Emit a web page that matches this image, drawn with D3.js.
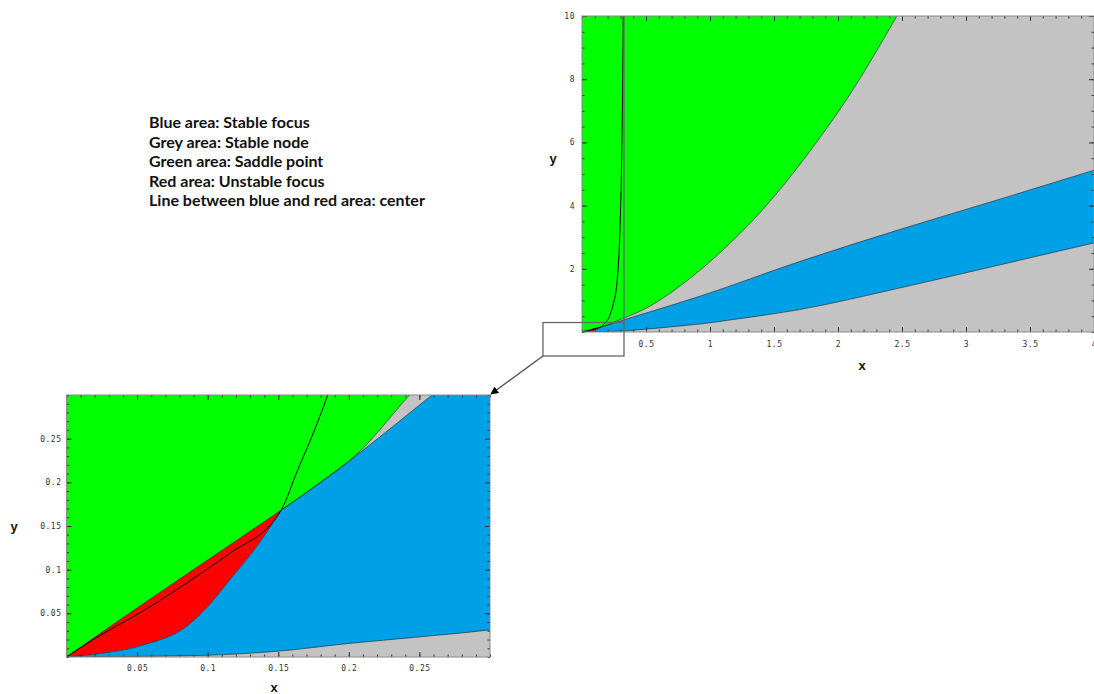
<!DOCTYPE html>
<html>
<head>
<meta charset="utf-8">
<script src="https://cdn.jsdelivr.net/npm/d3@7"></script>
<style>
  html, body { margin: 0; padding: 0; background: #fff; }
  svg { display: block; }
  .tick text { font-family: "DejaVu Sans Mono", monospace; font-size: 8px; fill: #333; letter-spacing: 0.5px; }
</style>
</head>
<body>
<svg id="chart" width="1094" height="694"></svg>
<script>
// ---------------- data ----------------
const legendLines = [
  "Blue area: Stable focus",
  "Grey area: Stable node",
  "Green area: Saddle point",
  "Red area: Unstable focus",
  "Line between blue and red area: center"
];

// tick labels
const mainXTicks = [0.5, 1, 1.5, 2, 2.5, 3, 3.5, 4];
const mainYTicks = [2, 4, 6, 8, 10];
const zoomXTicks = [0.05, 0.1, 0.15, 0.2, 0.25];
const zoomYTicks = [0.05, 0.1, 0.15, 0.2, 0.25];

// boundary: green (saddle) / red (unstable focus), from origin to the meeting point
const redTop = [[0, 0], [0.05, 0.056], [0.1, 0.111], [0.152, 0.168]];
// boundary: red / blue
const redBottom = [[0, 0], [0.019, 0.003], [0.054, 0.0136], [0.085, 0.035], [0.1, 0.0576],
                   [0.116, 0.089], [0.135, 0.127], [0.152, 0.168]];
// boundary: green / grey
const greenGrey = [[0.152, 0.168], [0.18, 0.2], [0.203, 0.228], [0.243, 0.3], [0.5, 0.75],
                   [0.92, 1.95], [1.18, 2.9], [1.44, 4.0], [1.73, 5.45], [2.09, 7.5], [2.46, 10]];
// boundary: blue / grey (upper)
const blueTop = [[0.152, 0.168], [0.18, 0.2], [0.203, 0.228], [0.259, 0.3], [0.5, 0.6],
                 [0.92, 1.13], [1.70, 2.23], [2.48, 3.24], [3.27, 4.21], [4.0, 5.12]];
// boundary: blue / grey (lower)
const blueBottom = [[0, 0], [0.04, 0.0005], [0.1, 0.002], [0.15, 0.0067], [0.2, 0.0155],
                    [0.25, 0.023], [0.3, 0.031], [0.5, 0.09], [0.766, 0.19], [0.92, 0.25],
                    [1.156, 0.38], [1.70, 0.71], [2.48, 1.39], [3.27, 2.13], [4.0, 2.82]];
// black curve through the red and green areas
const centerCurve = [[0, 0], [0.02, 0.021], [0.0556, 0.054], [0.1, 0.101], [0.116, 0.119],
                     [0.152, 0.168], [0.164, 0.215], [0.175, 0.257], [0.185, 0.3], [0.206, 0.42],
                     [0.245, 0.9], [0.27, 1.44], [0.289, 2.49], [0.299, 3.54], [0.31, 5.5],
                     [0.318, 8], [0.322, 10]];

// ---------------- drawing ----------------
const svg = d3.select("#chart");
svg.append("rect").attr("width", 1094).attr("height", 694).attr("fill", "#fff");

const colors = { green: "#00ff00", grey: "#c3c3c3", blue: "#00a0e6", red: "#ff0000" };

const defs = svg.append("defs");
defs.append("marker")
  .attr("id", "arrowHead").attr("viewBox", "0 0 10 10")
  .attr("refX", 9).attr("refY", 5)
  .attr("markerWidth", 8).attr("markerHeight", 8)
  .attr("markerUnits", "userSpaceOnUse")
  .attr("orient", "auto")
  .append("path").attr("d", "M0,0 L10,5 L0,10 z").attr("fill", "#000");

function drawPanel(cfg) {
  const x = d3.scaleLinear().domain(cfg.xDomain).range([cfg.left, cfg.right]);
  const y = d3.scaleLinear().domain(cfg.yDomain).range([cfg.bottom, cfg.top]);
  const smooth = d3.line().x(d => x(d[0])).y(d => y(d[1])).curve(d3.curveMonotoneX);
  const straight = d3.line().x(d => x(d[0])).y(d => y(d[1]));
  const ymax = cfg.yDomainBig;

  // join several boundary pieces into one closed outline
  const outline = pieces => pieces.map((p, i) => {
    const s = (p.smooth ? smooth : straight)(p.pts);
    return i === 0 ? s : "L" + s.slice(1);
  }).join("") + "Z";
  const rev = a => a.slice().reverse();

  defs.append("clipPath").attr("id", cfg.id + "-clip")
    .append("rect")
    .attr("x", cfg.left).attr("y", cfg.top)
    .attr("width", cfg.right - cfg.left).attr("height", cfg.bottom - cfg.top);

  const g = svg.append("g").attr("clip-path", `url(#${cfg.id}-clip)`);

  // grey background (stable node)
  g.append("rect")
    .attr("x", cfg.left).attr("y", cfg.top)
    .attr("width", cfg.right - cfg.left).attr("height", cfg.bottom - cfg.top)
    .attr("fill", colors.grey);

  const gEnd = greenGrey[greenGrey.length - 1];

  // green region
  g.append("path").attr("fill", colors.green).attr("d", outline([
    { pts: [[0, ymax], [0, 0]] },
    { pts: redTop, smooth: true },
    { pts: greenGrey, smooth: true },
    { pts: [gEnd, [gEnd[0], ymax]] }
  ]));

  // red region
  g.append("path").attr("fill", colors.red).attr("d", outline([
    { pts: redTop, smooth: true },
    { pts: rev(redBottom), smooth: true }
  ]));

  // blue region
  g.append("path").attr("fill", colors.blue).attr("d", outline([
    { pts: redBottom, smooth: true },
    { pts: blueTop, smooth: true },
    { pts: rev(blueBottom), smooth: true }
  ]));

  // boundary edges
  [redTop, redBottom, greenGrey, blueTop, blueBottom].forEach(b => {
    g.append("path").attr("d", smooth(b)).attr("fill", "none")
      .attr("stroke", "#1a1a1a").attr("stroke-width", 0.7).attr("stroke-opacity", 0.8);
  });

  // curve
  g.append("path").attr("d", smooth(centerCurve)).attr("fill", "none")
    .attr("stroke", "#000").attr("stroke-width", 1);

  // axes (ticks pointing inward, Mathematica-style frame)
  const fmt = d => String(d);
  const axes = svg.append("g");
  const addAxis = (axis, tx, ty) => {
    const a = axes.append("g").attr("transform", `translate(${tx},${ty})`).call(axis);
    a.select(".domain").remove();
    a.selectAll(".tick line").attr("stroke", "#333").attr("stroke-width", 1);
    return a;
  };
  // bottom
  addAxis(d3.axisBottom(x).tickValues(cfg.xMinor).tickSize(-2.5).tickFormat(""), 0, cfg.bottom);
  addAxis(d3.axisBottom(x).tickValues(cfg.xTicks).tickSize(-5).tickPadding(cfg.padX).tickFormat(fmt), 0, cfg.bottom);
  // top
  addAxis(d3.axisTop(x).tickValues(cfg.xMinor).tickSize(-2.5).tickFormat(""), 0, cfg.top);
  addAxis(d3.axisTop(x).tickValues(cfg.xTicks).tickSize(-5).tickFormat(""), 0, cfg.top);
  // left
  addAxis(d3.axisLeft(y).tickValues(cfg.yMinor).tickSize(-2.5).tickFormat(""), cfg.left, 0);
  addAxis(d3.axisLeft(y).tickValues(cfg.yTicks).tickSize(-5).tickPadding(cfg.padY).tickFormat(fmt), cfg.left, 0);
  // right
  addAxis(d3.axisRight(y).tickValues(cfg.yMinor).tickSize(-2.5).tickFormat(""), cfg.right, 0);
  addAxis(d3.axisRight(y).tickValues(cfg.yTicks).tickSize(-5).tickFormat(""), cfg.right, 0);

  // frame
  svg.append("rect")
    .attr("x", cfg.left).attr("y", cfg.top)
    .attr("width", cfg.right - cfg.left).attr("height", cfg.bottom - cfg.top)
    .attr("fill", "none").attr("stroke", "#8a8a8a").attr("stroke-width", 1);

  // axis titles
  svg.append("text").text("x")
    .attr("x", cfg.xTitle[0]).attr("y", cfg.xTitle[1])
    .attr("text-anchor", "middle")
    .attr("font-family", "Liberation Sans, Arial, sans-serif").attr("font-weight", "bold")
    .attr("font-size", 13).attr("fill", "#111");
  svg.append("text").text("y")
    .attr("x", cfg.yTitle[0]).attr("y", cfg.yTitle[1])
    .attr("text-anchor", "middle")
    .attr("font-family", "Liberation Sans, Arial, sans-serif").attr("font-weight", "bold")
    .attr("font-size", 13).attr("fill", "#111");

  return { x, y };
}

const main = drawPanel({
  id: "main",
  left: 582, right: 1094, top: 16, bottom: 332,
  xDomain: [0, 4], yDomain: [0, 10], yDomainBig: 10,
  xTicks: mainXTicks, yTicks: mainYTicks,
  xMinor: d3.range(0, 4.0001, 0.1), yMinor: d3.range(0, 10.0001, 0.5),
  padX: 9, padY: 7,
  xTitle: [862, 370], yTitle: [553, 163]
});

const zoom = drawPanel({
  id: "zoom",
  left: 66.5, right: 490, top: 395, bottom: 657,
  xDomain: [0, 0.3], yDomain: [0, 0.3], yDomainBig: 10,
  xTicks: zoomXTicks, yTicks: zoomYTicks,
  xMinor: d3.range(0, 0.3001, 0.01), yMinor: d3.range(0, 0.3001, 0.01),
  padX: 8, padY: 5,
  xTitle: [274, 692], yTitle: [14, 531]
});

// zoom-window annotation on the main plot
const ann = svg.append("g").attr("fill", "none").attr("stroke", "#666").attr("stroke-width", 1.3);
const rx0 = main.x(-0.305), rx1 = main.x(0.328), ry0 = main.y(0.3), ry1 = main.y(-0.76);
ann.append("rect").attr("x", rx0).attr("y", ry0).attr("width", rx1 - rx0).attr("height", ry1 - ry0);
ann.append("line").attr("x1", rx1).attr("x2", rx1).attr("y1", main.y(10)).attr("y2", ry0);
ann.append("line")
  .attr("x1", rx0).attr("y1", ry1)
  .attr("x2", zoom.x(0.3) + 1).attr("y2", zoom.y(0.3) - 1)
  .attr("stroke", "#555").attr("stroke-width", 1.5)
  .attr("marker-end", "url(#arrowHead)");

// legend text
const legend = svg.append("g");
legendLines.forEach((t, i) => {
  legend.append("text").text(t)
    .attr("x", 149).attr("y", 128 + i * 19.5)
    .attr("font-family", "Lato, 'Open Sans', sans-serif")
    .attr("font-weight", "bold").attr("font-size", 16)
    .attr("fill", "#111");
});
</script>
</body>
</html>
